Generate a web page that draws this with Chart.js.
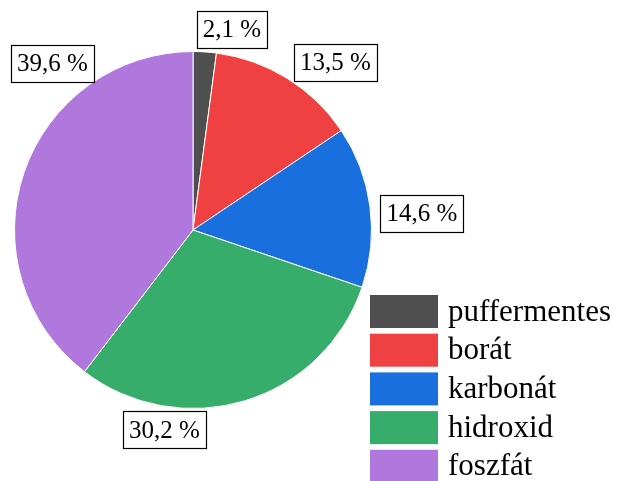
<!DOCTYPE html>
<html>
<head>
<meta charset="utf-8">
<script src="https://cdn.jsdelivr.net/npm/chart.js@4"></script>
<style>
  body { margin: 0; background: #fff; }
  #wrap { width: 617px; height: 481px; }
</style>
</head>
<body>
<div id="wrap"><canvas id="pieChart" width="617" height="481"></canvas></div>
<script>
// Share of buffer types (%)
const categories = ['puffermentes', 'borát', 'karbonát', 'hidroxid', 'foszfát'];
const shares = [2.1, 13.5, 14.6, 30.2, 39.6];
const sliceColors = ['#4f4f4f', '#f04142', '#1a6fdf', '#37ad6b', '#b077dd'];

// hand nudges so the value boxes sit clear of each other
const labelNudge = [[24, 8], [20, 10], [-1, 11], [-96, 0], [79, -99]];

const fmt = (v) => v.toFixed(1).replace('.', ',') + ' %';

// value boxes around the pie
const valueBoxes = {
    id: 'valueBoxes',
    afterDatasetsDraw(chart) {
        const ctx = chart.ctx;
        const meta = chart.getDatasetMeta(0);
        ctx.save();
        ctx.font = '25px "Liberation Serif", "Times New Roman", serif';
        ctx.textAlign = 'center';
        ctx.textBaseline = 'middle';
        meta.data.forEach((arc, i) => {
            const p = arc.getProps(['x', 'y', 'startAngle', 'endAngle', 'outerRadius']);
            const mid = (p.startAngle + p.endAngle) / 2;
            const txt = fmt(shares[i]);
            const w = ctx.measureText(txt).width + 12;
            const h = 37;
            const r = p.outerRadius + 12;
            const cx = p.x + Math.cos(mid) * (r + w / 2) + labelNudge[i][0];
            const cy = p.y + Math.sin(mid) * (r + h / 2) + labelNudge[i][1];
            ctx.fillStyle = '#fff';
            ctx.fillRect(cx - w / 2, cy - h / 2, w, h);
            ctx.strokeStyle = '#000';
            ctx.lineWidth = 1.2;
            ctx.strokeRect(Math.round(cx - w / 2) + 0.5, Math.round(cy - h / 2) + 0.5, Math.round(w), h);
            ctx.fillStyle = '#000';
            ctx.fillText(txt, cx, cy + 1);
        });
        ctx.restore();
    }
};

// legend in the lower right corner
const cornerLegend = {
    id: 'cornerLegend',
    afterDraw(chart) {
        const ctx = chart.ctx;
        const x0 = 370, y0 = 295, step = 38.7, bw = 68, bh = 33;
        ctx.save();
        ctx.font = '31px "Liberation Serif", "Times New Roman", serif';
        ctx.textAlign = 'left';
        ctx.textBaseline = 'middle';
        chart.data.labels.forEach((lab, i) => {
            const y = y0 + i * step;
            ctx.fillStyle = sliceColors[i];
            ctx.fillRect(x0, y, bw, bh);
            ctx.fillStyle = '#000';
            ctx.fillText(lab, x0 + bw + 10, y + bh / 2 + 1);
        });
        ctx.restore();
    }
};

new Chart(document.getElementById('pieChart'), {
    type: 'pie',
    data: {
        labels: categories,
        datasets: [{
            data: shares,
            backgroundColor: sliceColors,
            borderColor: '#ffffff',
            borderWidth: 1
        }]
    },
    options: {
        responsive: false,
        animation: false,
        layout: { padding: { left: 14, right: 245, top: 51, bottom: 72 } },
        plugins: {
            legend: { display: false },
            tooltip: { enabled: false }
        }
    },
    plugins: [valueBoxes, cornerLegend]
});
</script>
</body>
</html>
